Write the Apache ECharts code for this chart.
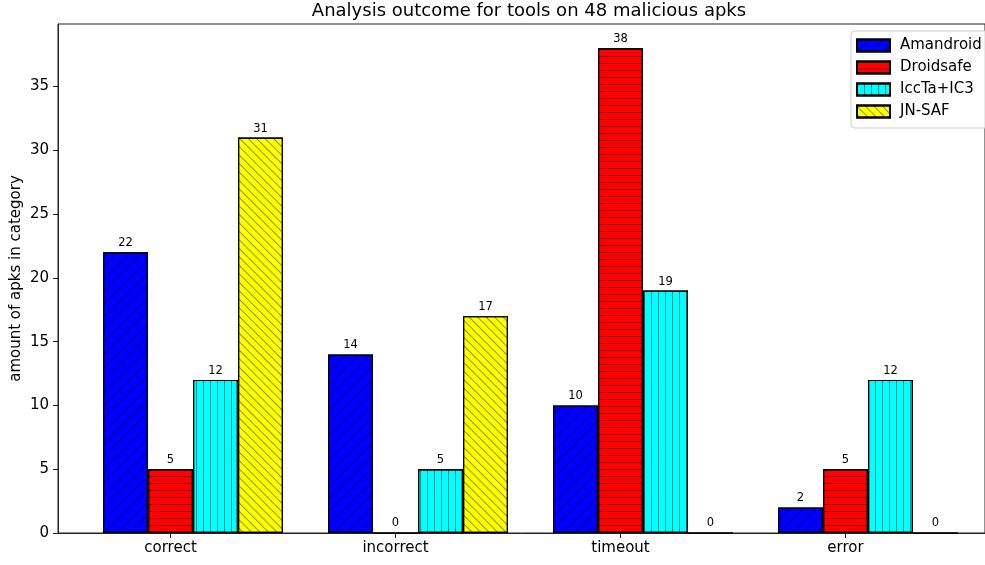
<!DOCTYPE html>
<html>
<head>
<meta charset="utf-8">
<script src="https://cdn.jsdelivr.net/npm/echarts@6/dist/echarts.min.js"></script>
<style>
  html, body { margin: 0; padding: 0; background: #fff; }
  #chart { width: 985px; height: 565px; }
</style>
</head>
<body>
<div id="chart"></div>
<script>
// Outcome categories and the number of apks each tool landed in them
const categories = ['correct', 'incorrect', 'timeout', 'error'];
const tools = ['Amandroid', 'Droidsafe', 'IccTa+IC3', 'JN-SAF'];
const amandroid = [22, 14, 10, 2];
const droidsafe = [5, 0, 38, 5];
const iccta = [12, 5, 19, 12];
const jnsaf = [31, 17, 0, 0];
const yTicks = [0, 5, 10, 15, 20, 25, 30, 35];

const FONT = 'DejaVu Sans';
const hatchColor = 'rgba(0,0,0,0.42)';

// Hatch fills drawn as ECharts decals
const hatchDiagUp = { symbol: 'rect', symbolSize: 1, symbolKeepAspect: false,
  dashArrayX: [8, 0], dashArrayY: [1, 7.5], rotation: -Math.PI / 4, color: hatchColor };
const hatchHoriz = { symbol: 'rect', symbolSize: 1, symbolKeepAspect: false,
  dashArrayX: [6, 0], dashArrayY: [1, 5.2], rotation: 0, color: hatchColor };
const hatchVert = { symbol: 'rect', symbolSize: 1, symbolKeepAspect: false,
  dashArrayX: [1, 5.5], dashArrayY: [6, 0], rotation: 0, color: hatchColor };
const hatchDiagDown = { symbol: 'rect', symbolSize: 1, symbolKeepAspect: false,
  dashArrayX: [6, 0], dashArrayY: [1, 5], rotation: Math.PI / 4, color: hatchColor };

const seriesDefs = [
  { name: tools[0], values: amandroid, color: '#0000ff', decal: hatchDiagUp },
  { name: tools[1], values: droidsafe, color: '#ff0000', decal: hatchHoriz },
  { name: tools[2], values: iccta, color: '#00ffff', decal: hatchVert },
  { name: tools[3], values: jnsaf, color: '#ffff00', decal: hatchDiagDown }
];

// Each group of four bars is centred 0.1 to the right of its category tick
const series = seriesDefs.map(s => ({
  name: s.name,
  type: 'bar',
  barWidth: 45,
  barGap: '0%',
  data: s.values.map((v, i) => [i + 0.1, v]),
  itemStyle: { color: s.color, borderColor: '#000', borderWidth: 1.2, decal: s.decal },
  label: {
    show: true, position: 'top', distance: 3,
    fontFamily: FONT, fontSize: 11.5, color: '#000',
    formatter: p => String(p.value[1])
  },
  emphasis: { disabled: true },
  animation: false
}));

const chart = echarts.init(document.getElementById('chart'), null, { renderer: 'canvas' });
chart.setOption({
  backgroundColor: '#fff',
  aria: { enabled: false },
  graphic: [{
    type: 'text',
    x: 529, y: 11,
    silent: true,
    style: {
      text: 'Analysis outcome for tools on 48 malicious apks',
      fontFamily: FONT, fontSize: 18, fill: '#000',
      align: 'center', verticalAlign: 'middle'
    }
  }],
  legend: {
    data: tools,
    orient: 'vertical',
    left: 851, top: 31,
    padding: [7, 40, 9, 5],
    itemWidth: 33, itemHeight: 12, itemGap: 7,
    icon: 'rect',
    borderColor: '#ccc', borderWidth: 1, borderRadius: 4,
    backgroundColor: 'rgba(255,255,255,0.8)',
    textStyle: { fontFamily: FONT, fontSize: 15, color: '#000', padding: [0, 0, 0, 5] }
  },
  grid: {
    left: 58, top: 24, right: 0, bottom: 32,
    outerBoundsMode: 'none', containLabel: false,
    show: true, borderColor: '#222', borderWidth: 1, backgroundColor: 'transparent'
  },
  xAxis: {
    type: 'value',
    min: -0.5, max: 3.62,
    axisLine: { show: true, onZero: false, lineStyle: { color: '#222', width: 1 } },
    axisTick: { show: true, length: 5, lineStyle: { color: '#222' }, customValues: [0, 1, 2, 3] },
    axisLabel: {
      customValues: [0, 1, 2, 3],
      formatter: v => categories[Math.round(v)] || '',
      fontFamily: FONT, fontSize: 15, color: '#000', margin: 8
    },
    splitLine: { show: false }
  },
  yAxis: {
    type: 'value',
    min: 0, max: 39.9, interval: 5,
    name: 'amount of apks in category',
    nameLocation: 'middle', nameGap: 34, nameMoveOverlap: false,
    nameTextStyle: { fontFamily: FONT, fontSize: 15, color: '#000' },
    axisLine: { show: true, onZero: false, lineStyle: { color: '#222', width: 1 } },
    axisTick: { show: true, length: 5, lineStyle: { color: '#222' }, customValues: yTicks },
    axisLabel: {
      fontFamily: FONT, fontSize: 15, color: '#000', margin: 9,
      customValues: yTicks
    },
    splitLine: { show: false }
  },
  series: series
});
</script>
</body>
</html>
